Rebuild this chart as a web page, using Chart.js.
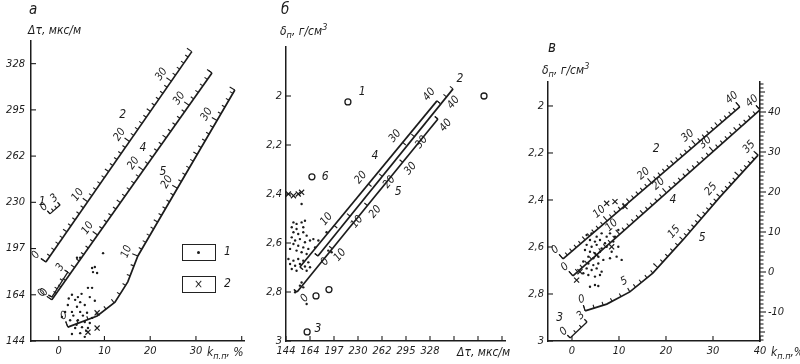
<!DOCTYPE html>
<html lang="ru">
<head>
<meta charset="UTF-8">
<title>Номограммы Δτ – kп.п – δп</title>
<script src="https://cdn.jsdelivr.net/npm/chart.js"></script>
<style>
    body {
        margin: 0;
        background: #fff;
        font-family: 'Liberation Sans Narrow', 'DejaVu Sans Condensed', 'Liberation Sans', sans-serif;
        font-style: italic;
        color: #1c1c1c;
    }
    #wrap { position: relative; width: 800px; height: 364px; overflow: hidden; }
    canvas { position: absolute; top: 0; }
    .t { position: absolute; font-size: 12px; line-height: 1; white-space: nowrap; }
    .big { font-size: 15px; }
    .box { position: absolute; width: 32px; height: 15px; border: 1.3px solid #222; }
    .dot { position: absolute; width: 3px; height: 3px; border-radius: 50%; background: #1c1c1c; }
    sub, sup { font-size: 9px; line-height: 0; }
</style>
</head>
<body>
<div id="wrap">
    <canvas id="ca" width="262" height="364" style="left:0"></canvas>
    <canvas id="cb" width="253" height="364" style="left:262px"></canvas>
    <canvas id="cc" width="285" height="364" style="left:515px"></canvas>

    <div class="t big" style="left:29px;top:2px">а</div>
    <div class="t" style="left:28px;top:24px">Δτ, мкс/м</div>
    <div class="t" style="left:207px;top:346px">k<sub>п.п</sub>, %</div>
    <div class="box" style="left:182px;top:244px"></div>
    <div class="dot" style="left:197px;top:251px"></div>
    <div class="t" style="left:224px;top:245px">1</div>
    <div class="box" style="left:182px;top:276px"></div>
    <div class="t" style="left:194px;top:278px">×</div>
    <div class="t" style="left:224px;top:277px">2</div>

    <div class="t big" style="left:281px;top:2px">б</div>
    <div class="t" style="left:280px;top:25px">δ<sub>п</sub>, г/см<sup>3</sup></div>
    <div class="t" style="left:457px;top:346px">Δτ, мкс/м</div>

    <div class="t big" style="left:548px;top:40px">в</div>
    <div class="t" style="left:542px;top:64px">δ<sub>п</sub>, г/см<sup>3</sup></div>
    <div class="t" style="left:771px;top:346px">k<sub>п.п</sub>,%</div>
</div>

<script>
const INK = '#1c1c1c';
const FONT = "'Liberation Sans Narrow', 'DejaVu Sans Condensed', 'Liberation Sans', sans-serif";

// ---------- panel а : Δτ (tick positions) vs kп.п, %
const aTauLabels = ['144', '164', '197', '230', '262', '295', '328'];
const aKTicks = [0, 10, 20, 30, 40];
const aDotsX = [2.9, 4.2, 3.6, 2.0, 4.7, 4.0, 5.7, 1.4, 2.9, 4.7, 6.2, 0.7, 2.5, 4.2, 5.7, 7.3, 6.8, 5.1, 6.4, 3.6,
                4.7, 2.9, 5.7, 7.3, 7.9, 7.5, 8.4, 6.4, 7.3, 6.8, 7.9, 4.0, 4.7, 9.7, 3.2, 5.3, 3.9, 6.0, 2.2, 5.0];
const aDotsY = [1.00, 0.95, 0.89, 0.78, 0.84, 0.74, 0.78, 0.63, 0.63, 0.63, 0.61, 0.52, 0.45, 0.45, 0.41, 0.50, 0.39, 0.30, 0.28, 0.28,
                0.17, 0.15, 0.09, 1.58, 1.60, 1.49, 1.47, 1.15, 1.15, 0.95, 0.87, 1.80, 1.80, 1.90, 0.55, 0.55, 0.35, 0.22, 0.92, 1.02];
const aCrossX = [8.4, 8.4, 6.4];
const aCrossY = [0.61, 0.28, 0.19];
const aLine1X = [-1.9, 0.3], aLine1Y = [2.75, 2.94], aLine1K = [0, 3];
const aLine2X = [-2.8, 29.1], aLine2Y = [1.71, 6.26], aLine2K = [0, 34.9];
const aLine3X = [-1.5, 2.0], aLine3Y = [0.95, 1.49], aLine3K = [0, 3];
const aLine4X = [-1.5, 33.5], aLine4Y = [0.89, 5.80], aLine4K = [0, 35];
const aLine5X = [2.0, 8.4, 12.3, 15.1, 17.3, 38.5];
const aLine5Y = [0.30, 0.54, 0.84, 1.28, 1.84, 5.43];
const aLine5K = [0, 2.9, 5.1, 7.4, 10, 34.5];
const aNoteT = ['2', '4', '5', '1'];
const aNoteX = [14.0, 18.4, 22.8, -3.6];
const aNoteY = [4.89, 4.18, 3.66, 3.01];

// ---------- panel б : δп vs Δτ (tick positions)
const bTauLabels = ['144', '164', '197', '230', '262', '295', '328', '', '', ''];
const bDensTicks = [2, 2.2, 2.4, 2.6, 2.8, 3];
const bDotsX = [0.31, 0.44, 0.65, 0.24, 0.44, 0.72, 0.79, 0.31, 0.51, 0.72, 0.86, 0.24, 0.38, 0.58, 0.79, 1.0, 0.31, 0.51, 0.72, 0.93,
                0.17, 0.44, 0.65, 0.86, 0.10, 0.31, 0.51, 0.72, 0.93, 0.17, 0.38, 0.58, 0.79, 1.0, 0.24, 0.44, 0.86, 1.14, 1.35, 1.21,
                1.69, 1.76, 1.90, 0.65, 0.58, 0.72, 0.38, 0.86, 0.65];
const bDotsY = [2.516, 2.522, 2.516, 2.536, 2.543, 2.536, 2.509, 2.556, 2.563, 2.556, 2.570, 2.577, 2.590, 2.584, 2.597, 2.590, 2.604, 2.611, 2.618, 2.624,
                2.624, 2.631, 2.638, 2.645, 2.665, 2.672, 2.665, 2.672, 2.679, 2.686, 2.693, 2.686, 2.696, 2.699, 2.706, 2.713, 2.713, 2.584, 2.590, 2.618,
                2.556, 2.631, 2.638, 2.761, 2.774, 2.781, 2.801, 2.849, 2.441];
const bCrossX = [0.10, 0.31, 0.51, 0.65];
const bCrossY = [2.400, 2.407, 2.400, 2.393];
const bRingX = [2.58, 8.25, 1.08, 1.25, 1.79, 0.88];
const bRingY = [2.024, 2.0, 2.33, 2.816, 2.79, 2.963];
const bLine4X = [0.58, 6.29], bLine4Y = [2.698, 2.020], bLine4K = [0, 40];
const bLine2X = [1.33, 6.96], bLine2Y = [2.653, 1.971], bLine2K = [0, 42];
const bLine5X = [0.46, 6.33], bLine5Y = [2.800, 2.094], bLine5K = [0, 40];
const bNoteT = ['1', '6', '3', '2', '4', '5'];
const bNoteX = [3.17, 1.63, 1.33, 7.25, 3.71, 4.67];
const bNoteY = [1.984, 2.331, 2.951, 1.931, 2.245, 2.392];

// ---------- panel в : δп vs kп.п, %
const cKTicks = [0, 10, 20, 30, 40];
const cDensTicks = [2, 2.2, 2.4, 2.6, 2.8, 3];
const cDotsX = [3.12, 4.18, 5.25, 6.31, 7.38, 3.83, 4.89, 5.96, 7.02, 3.12, 4.18, 5.25, 6.31, 7.38, 2.77, 3.83, 4.89, 5.96, 3.48, 4.54,
                5.60, 6.67, 2.41, 3.48, 4.54, 5.60, 3.12, 4.18, 5.25, 6.31, 2.41, 3.48, 4.89, 5.96, 3.83, 4.89, 5.60, 8.09, 9.15, 9.86,
                8.79, 9.86, 8.44, 9.50, 10.57, 8.09];
const cDotsY = [2.549, 2.542, 2.556, 2.542, 2.556, 2.570, 2.577, 2.570, 2.584, 2.591, 2.599, 2.591, 2.606, 2.599, 2.613, 2.620, 2.627, 2.620, 2.641, 2.648,
                2.641, 2.655, 2.662, 2.670, 2.677, 2.670, 2.691, 2.698, 2.691, 2.705, 2.712, 2.719, 2.726, 2.719, 2.769, 2.762, 2.766, 2.542, 2.556, 2.528,
                2.577, 2.599, 2.620, 2.641, 2.655, 2.648];
const cCrossX = [7.38, 9.15, 11.28, 8.44, 5.25, 1.70, 0.99];
const cCrossY = [2.414, 2.407, 2.428, 2.599, 2.634, 2.705, 2.741];
const cLine2X = [-1.9, 35.7], cLine2Y = [2.651, 2.004], cLine2K = [0, 40];
const cLine4X = [0.2, 40.0], cLine4Y = [2.723, 2.017], cLine4K = [0, 40];
const cLine5X = [2.8, 7.4, 12.3, 17.2, 23.6, 31.5, 39.6];
const cLine5Y = [2.872, 2.843, 2.791, 2.711, 2.570, 2.387, 2.209];
const cLine5K = [0, 2.4, 5, 9, 15, 25, 35];
const cLine3X = [-0.4, 3.2], cLine3Y = [2.987, 2.919], cLine3K = [0, 3];
const cNoteT = ['2', '4', '5', '3'];
const cNoteX = [17.9, 21.5, 27.7, -2.6];
const cNoteY = [2.183, 2.40, 2.562, 2.90];

// ---------- helpers
const pts = (xs, ys) => xs.map((x, i) => ({ x: x, y: ys[i] }));
const rng = (a, b) => { const r = []; for (let v = a; v <= b; v++) r.push(v); return r; };

function alongAt(px, kv, k) {
    let i = 0;
    while (i < kv.length - 2 && k > kv[i + 1]) i++;
    const t = (k - kv[i]) / (kv[i + 1] - kv[i]);
    const [x0, y0] = px[i], [x1, y1] = px[i + 1];
    const len = Math.hypot(x1 - x0, y1 - y0) || 1;
    return { x: x0 + (x1 - x0) * t, y: y0 + (y1 - y0) * t, ux: (x1 - x0) / len, uy: (y1 - y0) / len };
}

const nomo = {
    id: 'nomo',
    afterDraw(chart, args, opts) {
        const ctx = chart.ctx;
        ctx.save();
        ctx.strokeStyle = INK;
        ctx.fillStyle = INK;
        ctx.lineWidth = 1.1;

        // axis ticks (inward on the frame axes, outward on the right scale)
        (opts.axisTicks || []).forEach(a => {
            const s = chart.scales[a.id];
            s.ticks.forEach(t => {
                const v = t.value;
                const len = v % 10 === 0 ? a.major : (v % 5 === 0 ? a.mid : a.minor);
                const p = s.getPixelForValue(v);
                ctx.beginPath();
                if (s.isHorizontal()) {
                    ctx.moveTo(p, s.top); ctx.lineTo(p, s.top - len);
                } else {
                    const x0 = s.position === 'right' ? s.left : s.right;
                    ctx.moveTo(x0, p); ctx.lineTo(x0 + len, p);
                }
                ctx.stroke();
            });
        });

        // graduated scales along the nomogram lines
        chart.data.datasets.forEach(ds => {
            if (!ds.kv) return;
            const xs = chart.scales.x, ys = chart.scales.y;
            const px = ds.data.map(p => [xs.getPixelForValue(p.x), ys.getPixelForValue(p.y)]);
            const kv = ds.kv, st = ds.step;
            const k0 = kv[0], k1 = kv[kv.length - 1];
            const tick = (k, len) => {
                const q = alongAt(px, kv, k);
                const nx = q.uy * ds.side, ny = -q.ux * ds.side;
                ctx.beginPath();
                ctx.moveTo(q.x, q.y);
                ctx.lineTo(q.x + nx * len, q.y + ny * len);
                ctx.stroke();
            };
            for (let i = Math.ceil(k0 / st - 1e-9); i * st <= k1 + 1e-9; i++) {
                const k = i * st;
                tick(k, k % 10 === 0 ? ds.tl[2] : (k % 5 === 0 ? ds.tl[1] : ds.tl[0]));
            }
            tick(k0, ds.tl[2]);
            tick(k1, ds.tl[2]);

            ctx.font = 'italic 11px ' + FONT;
            ctx.textAlign = 'center';
            ctx.textBaseline = 'middle';
            ds.kl.forEach(k => {
                const q = alongAt(px, kv, k);
                const nx = q.uy * ds.lside, ny = -q.ux * ds.lside;
                ctx.save();
                ctx.translate(q.x + nx * ds.loff, q.y + ny * ds.loff);
                ctx.rotate(Math.atan2(q.uy, q.ux));
                ctx.fillText(String(k), 0, 0);
                ctx.restore();
            });
        });

        // line numbers and sample numbers
        ctx.font = 'italic 12px ' + FONT;
        ctx.textAlign = 'center';
        ctx.textBaseline = 'middle';
        const n = opts.notes;
        if (n) n.t.forEach((t, i) => {
            ctx.fillText(t, chart.scales.x.getPixelForValue(n.x[i]), chart.scales.y.getPixelForValue(n.y[i]));
        });
        ctx.restore();
    }
};

function lineDs(X, Y, K, o) {
    return Object.assign({
        data: pts(X, Y), showLine: true, borderColor: INK, borderWidth: 1.7, pointRadius: 0,
        kv: K, step: 1, side: 1, tl: [3.5, 4.5, 6], kl: [], lside: 1, loff: 12
    }, o);
}
const dotsDs = (X, Y) => ({ data: pts(X, Y), pointRadius: 1.2, pointBackgroundColor: INK, pointBorderWidth: 0 });
const crossDs = (X, Y) => ({ data: pts(X, Y), pointStyle: 'crossRot', pointRadius: 3.6, pointBorderColor: INK, pointBorderWidth: 1.2 });
const ringDs = (X, Y) => ({ data: pts(X, Y), pointStyle: 'circle', pointRadius: 3, pointBackgroundColor: '#fff', pointBorderColor: INK, pointBorderWidth: 1.3 });

const tickFont = { family: FONT, style: 'italic', size: 11 };
function axis(extra) {
    return Object.assign({
        type: 'linear',
        grid: { drawOnChartArea: false, drawTicks: false },
        border: { color: INK, width: 1.5 },
        ticks: { font: tickFont, color: INK, padding: 4, autoSkip: false, maxRotation: 0 }
    }, extra);
}
const baseOpts = (pad, nomoOpts, scales) => ({
    responsive: false, animation: false, events: [],
    layout: { padding: pad },
    plugins: { legend: { display: false }, tooltip: { enabled: false }, nomo: nomoOpts },
    scales: scales
});

// ---------- panel а
new Chart(document.getElementById('ca'), {
    type: 'scatter',
    plugins: [nomo],
    data: { datasets: [
        lineDs(aLine2X, aLine2Y, aLine2K, { kl: [0, 10, 20, 30] }),
        lineDs(aLine4X, aLine4Y, aLine4K, { kl: [0, 10, 20, 30] }),
        lineDs(aLine5X, aLine5Y, aLine5K, { kl: [0, 10, 20, 30] }),
        lineDs(aLine1X, aLine1Y, aLine1K, { kl: [0, 3], borderWidth: 1.3, tl: [3, 3, 4], loff: 9 }),
        lineDs(aLine3X, aLine3Y, aLine3K, { kl: [0, 3], borderWidth: 1.3, tl: [3, 3, 4], loff: 9 }),
        dotsDs(aDotsX, aDotsY),
        crossDs(aCrossX, aCrossY)
    ] },
    options: baseOpts({ top: 41, right: 18, left: 0, bottom: 0 },
        { axisTicks: [{ id: 'x', major: 5, mid: 5, minor: 5 }, { id: 'y', major: 5, mid: 5, minor: 5 }],
          notes: { t: aNoteT, x: aNoteX, y: aNoteY } },
        {
            x: axis({ min: -6.05, max: 40.5,
                afterFit: s => { s.height = 23; },
                afterBuildTicks: s => { s.ticks = aKTicks.map(v => ({ value: v })); },
                ticks: Object.assign({}, axis().ticks, { callback: v => (v === 40 ? '' : String(v)) }) }),
            y: axis({ min: 0, max: 6.49,
                afterFit: s => { s.width = 31; },
                afterBuildTicks: s => { s.ticks = aTauLabels.map((l, i) => ({ value: i })); },
                ticks: Object.assign({}, axis().ticks, { padding: 6, callback: v => aTauLabels[v] }) })
        })
});

// ---------- panel б
new Chart(document.getElementById('cb'), {
    type: 'scatter',
    plugins: [nomo],
    data: { datasets: [
        lineDs(bLine4X, bLine4Y, bLine4K, { step: 10, side: -1, tl: [4, 4, 4], kl: [10, 20, 30, 40], lside: 1, loff: 10 }),
        lineDs(bLine2X, bLine2Y, bLine2K, { step: 10, side: 1, tl: [4, 4, 4], kl: [0, 10, 20, 30, 40], lside: -1, loff: 9 }),
        lineDs(bLine5X, bLine5Y, bLine5K, { step: 10, side: 1, tl: [4, 4, 4], kl: [0, 10, 20, 30, 40], lside: -1, loff: 10 }),
        dotsDs(bDotsX, bDotsY),
        crossDs(bCrossX, bCrossY),
        ringDs(bRingX, bRingY)
    ] },
    options: baseOpts({ top: 47, right: 10, left: 0, bottom: 0 },
        { axisTicks: [{ id: 'x', major: 5, mid: 5, minor: 5 }, { id: 'y', major: 5, mid: 5, minor: 5 }],
          notes: { t: bNoteT, x: bNoteX, y: bNoteY } },
        {
            x: axis({ min: 0, max: 9.125,
                afterFit: s => { s.height = 23; },
                afterBuildTicks: s => { s.ticks = bTauLabels.map((l, i) => ({ value: i })); },
                ticks: Object.assign({}, axis().ticks, { callback: v => bTauLabels[v] }) }),
            y: axis({ reverse: true, min: 1.8, max: 3.0,
                afterFit: s => { s.width = 24; },
                afterBuildTicks: s => { s.ticks = bDensTicks.map(v => ({ value: v })); },
                ticks: Object.assign({}, axis().ticks, { callback: v => String(v).replace('.', ',') }) })
        })
});

// ---------- panel в
new Chart(document.getElementById('cc'), {
    type: 'scatter',
    plugins: [nomo],
    data: { datasets: [
        lineDs(cLine2X, cLine2Y, cLine2K, { kl: [0, 10, 20, 30, 40] }),
        lineDs(cLine4X, cLine4Y, cLine4K, { kl: [0, 10, 20, 30, 40] }),
        lineDs(cLine5X, cLine5Y, cLine5K, { kl: [0, 5, 15, 25, 35] }),
        lineDs(cLine3X, cLine3Y, cLine3K, { kl: [0, 3], borderWidth: 1.3, tl: [3, 3, 4], loff: 9 }),
        dotsDs(cDotsX, cDotsY),
        crossDs(cCrossX, cCrossY)
    ] },
    options: baseOpts({ top: 82, right: 0, left: 0, bottom: 0 },
        { axisTicks: [{ id: 'x', major: 5, mid: 5, minor: 5 }, { id: 'y', major: 5, mid: 5, minor: 5 },
                      { id: 'y2', major: 6, mid: 5, minor: 3.5 }],
          notes: { t: cNoteT, x: cNoteX, y: cNoteY } },
        {
            x: axis({ min: -5.1, max: 40,
                afterFit: s => { s.height = 23; },
                afterBuildTicks: s => { s.ticks = cKTicks.map(v => ({ value: v })); } }),
            y: axis({ reverse: true, min: 1.898, max: 3.0,
                afterFit: s => { s.width = 33; },
                afterBuildTicks: s => { s.ticks = cDensTicks.map(v => ({ value: v })); },
                ticks: Object.assign({}, axis().ticks, { callback: v => String(v).replace('.', ',') }) }),
            y2: axis({ position: 'right', min: -17.25, max: 47.5,
                afterFit: s => { s.width = 40; },
                afterBuildTicks: s => { s.ticks = rng(-17, 47).map(v => ({ value: v })); },
                ticks: Object.assign({}, axis().ticks, { padding: 8, callback: v => (v % 10 === 0 ? String(v) : '') }) })
        })
});
</script>
</body>
</html>
